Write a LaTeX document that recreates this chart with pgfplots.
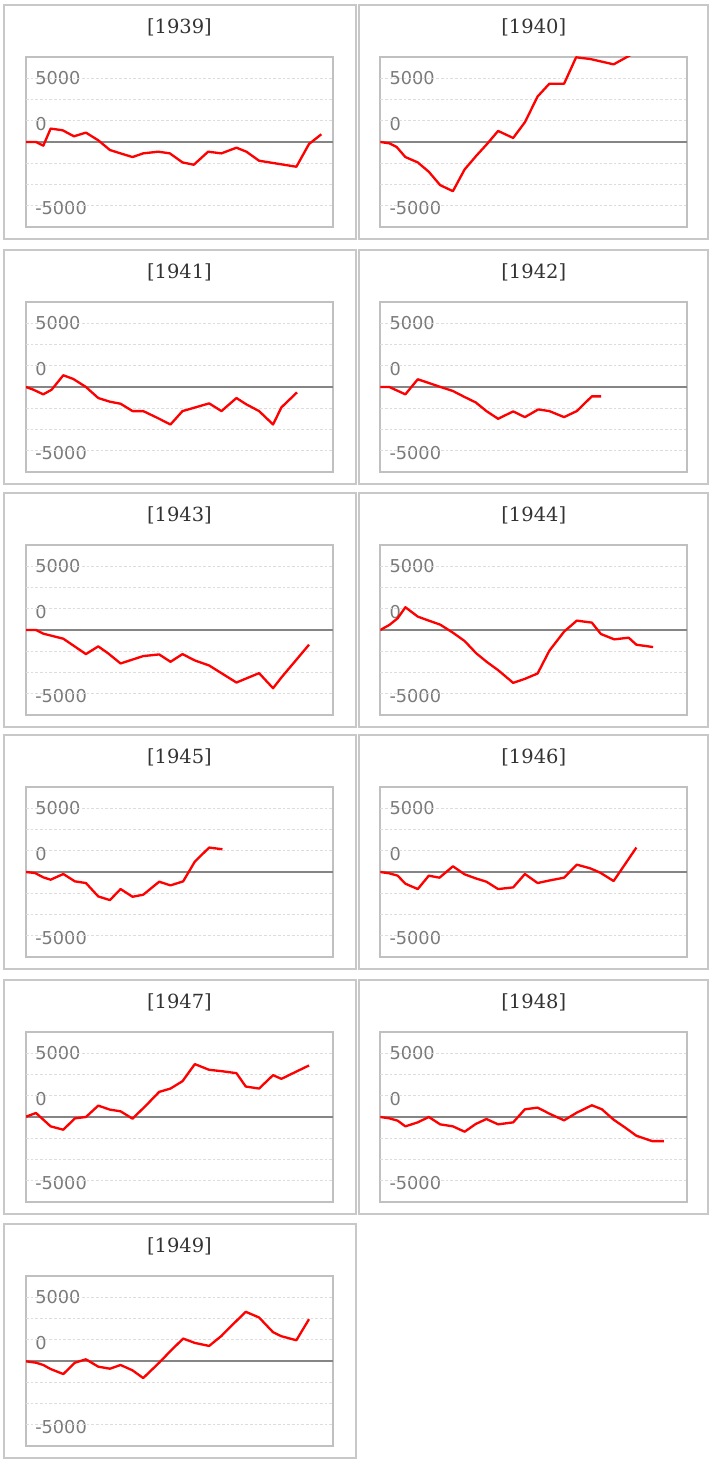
\documentclass[border=0pt]{standalone}
\usepackage{pgfplots}
\pgfplotsset{compat=1.18}
\usepackage{fontspec}
\setmainfont{DejaVu Sans}
\newfontfamily\titlefont{DejaVu Serif}
\definecolor{boxgray}{HTML}{C8C8C8}
\definecolor{axgray}{HTML}{C0C0C0}
\definecolor{gridgray}{HTML}{DDDDDD}
\definecolor{basegray}{HTML}{858585}
\definecolor{labgray}{HTML}{7A7A7A}
\definecolor{titlecol}{HTML}{333333}
\pgfplotsset{panel/.style={
  width=230.25pt, height=127.5pt, scale only axis, anchor=north west,
  xmin=0, ymin=-10000, ymax=10000,
  xtick=\empty,
  ytick={7500,2165,-7795}, yticklabels={5000,0,-5000},
  yticklabel style={anchor=west, inner sep=0pt, xshift=6.75pt, font=\fontsize{13.3}{15}\selectfont, text=labgray},
  major tick length=0pt,
  extra y ticks={-7500,-5000,-2500,2500,5000,7500},
  extra y tick labels={},
  extra y tick style={grid=major, major grid style={draw=gridgray, line width=0.6pt, dash pattern=on 2pt off 1.5pt}},
  axis line style={draw=axgray, line width=1.2pt},
  title style={at={(0.5,1)}, anchor=center, yshift=16.5pt, font=\titlefont\fontsize{14.6}{16}\selectfont, text=titlecol},
  scaled y ticks=false,
  clip=true,
}}
\pgfplotsset{redline/.style={draw=red, line width=1.75pt, line join=round, mark=none}}
\pgfplotsset{baseline/.style={draw=basegray, line width=1pt, mark=none}}
\begin{document}
\begin{tikzpicture}
\useasboundingbox (0,0) rectangle (534pt,1095.75pt);
% panel boxes
\foreach \t in {1092,908.25,726,544.5,360.75,177.75}{
  \draw[boxgray, line width=1.5pt] (3pt,\t pt) rectangle (267pt,\t pt-175.5pt);
}
\foreach \t in {1092,908.25,726,544.5,360.75}{
  \draw[boxgray, line width=1.5pt] (269.25pt,\t pt) rectangle (531pt,\t pt-175.5pt);
}
% 1939
\begin{axis}[panel, at={(19.5pt,1053pt)}, xmax=922, title={[1939]}]
\addplot[baseline] coordinates {(0,0) (922,0)};
\addplot[redline] coordinates {(0,0)(30,0)(52,-433)(74,1575)(110,1378)(144,669)(180,1102)(217,197)(252,-945)(287,-1378)(320,-1772)(352,-1339)(397,-1142)(432,-1339)(470,-2402)(504,-2677)(547,-1142)(587,-1339)(632,-669)(662,-1142)(700,-2205)(812,-2913)(850,-236)(887,905)};
\end{axis}
% 1940
\begin{axis}[panel, at={(285.2pt,1053pt)}, xmax=917, title={[1940]}]
\addplot[baseline] coordinates {(0,0) (917,0)};
\addplot[redline] coordinates {(0,0)(27,-157)(49,-591)(75,-1772)(112,-2402)(145,-3504)(179,-5079)(217,-5787)(252,-3228)(287,-1614)(319,-236)(352,1299)(397,472)(432,2323)(470,5354)(505,6850)(549,6850)(585,9961)(627,9764)(697,9134)(760,10500)};
\end{axis}
% 1941
\begin{axis}[panel, at={(19.5pt,869.25pt)}, xmax=922, title={[1941]}]
\addplot[baseline] coordinates {(0,0) (922,0)};
\addplot[redline] coordinates {(0,0)(22,-315)(52,-866)(77,-315)(112,1378)(142,945)(180,0)(217,-1299)(252,-1732)(284,-1969)(320,-2835)(352,-2835)(392,-3583)(434,-4409)(470,-2835)(512,-2362)(550,-1929)(587,-2835)(632,-1299)(662,-2047)(700,-2835)(742,-4409)(767,-2402)(814,-630)};
\end{axis}
% 1942
\begin{axis}[panel, at={(285.2pt,869.25pt)}, xmax=917, title={[1942]}]
\addplot[baseline] coordinates {(0,0) (917,0)};
\addplot[redline] coordinates {(0,0)(27,0)(75,-866)(112,906)(142,512)(177,39)(217,-472)(252,-1181)(285,-1811)(317,-2835)(352,-3740)(397,-2874)(432,-3543)(472,-2638)(505,-2835)(549,-3543)(587,-2835)(632,-1102)(660,-1102)};
\end{axis}
% 1943
\begin{axis}[panel, at={(19.5pt,687pt)}, xmax=922, title={[1943]}]
\addplot[baseline] coordinates {(0,0) (922,0)};
\addplot[redline] coordinates {(0,0)(30,0)(52,-433)(112,-1024)(180,-2835)(217,-1929)(247,-2756)(284,-3937)(352,-3071)(400,-2874)(434,-3740)(470,-2835)(507,-3583)(550,-4173)(587,-5079)(632,-6181)(700,-5079)(742,-6850)(767,-5591)(850,-1732)};
\end{axis}
% 1944
\begin{axis}[panel, at={(285.2pt,687pt)}, xmax=917, title={[1944]}]
\addplot[baseline] coordinates {(0,0) (917,0)};
\addplot[redline] coordinates {(0,0)(27,591)(52,1378)(75,2677)(112,1575)(145,1102)(179,630)(217,-315)(252,-1299)(287,-2756)(319,-3780)(352,-4724)(397,-6220)(432,-5748)(470,-5118)(505,-2441)(549,-197)(587,1102)(632,866)(659,-472)(699,-1102)(742,-906)(765,-1732)(815,-2008)};
\end{axis}
% 1945
\begin{axis}[panel, at={(19.5pt,505.5pt)}, xmax=922, title={[1945]}]
\addplot[baseline] coordinates {(0,0) (922,0)};
\addplot[redline] coordinates {(0,0)(27,-118)(52,-630)(74,-906)(112,-236)(147,-1102)(180,-1299)(217,-2874)(252,-3307)(284,-2008)(320,-2913)(352,-2677)(400,-1142)(434,-1575)(472,-1102)(507,1220)(550,2874)(590,2677)};
\end{axis}
% 1946
\begin{axis}[panel, at={(285.2pt,505.5pt)}, xmax=917, title={[1946]}]
\addplot[baseline] coordinates {(0,0) (917,0)};
\addplot[redline] coordinates {(0,0)(27,-157)(52,-433)(75,-1378)(112,-2008)(145,-433)(177,-669)(217,669)(252,-276)(285,-748)(317,-1142)(352,-2008)(397,-1811)(432,-236)(470,-1299)(507,-984)(549,-669)(587,866)(627,433)(657,-79)(697,-1063)(765,2874)};
\end{axis}
% 1947
\begin{axis}[panel, at={(19.5pt,321.75pt)}, xmax=922, title={[1947]}]
\addplot[baseline] coordinates {(0,0) (922,0)};
\addplot[redline] coordinates {(0,39)(30,472)(74,-1102)(112,-1496)(147,-157)(180,0)(217,1339)(252,866)(284,669)(320,-197)(362,1417)(400,2953)(434,3346)(470,4213)(507,6220)(550,5551)(587,5394)(632,5157)(660,3583)(700,3346)(742,4921)(767,4488)(802,5157)(850,6063)};
\end{axis}
% 1948
\begin{axis}[panel, at={(285.2pt,321.75pt)}, xmax=917, title={[1948]}]
\addplot[baseline] coordinates {(0,0) (917,0)};
\addplot[redline] coordinates {(0,0)(27,-157)(52,-433)(75,-1102)(112,-630)(145,0)(179,-866)(217,-1102)(252,-1732)(285,-827)(317,-236)(352,-866)(397,-630)(432,906)(470,1102)(507,354)(549,-394)(587,512)(632,1378)(662,906)(697,-315)(732,-1260)(765,-2205)(812,-2835)(847,-2835)};
\end{axis}
% 1949
\begin{axis}[panel, at={(19.5pt,138.75pt)}, xmax=922, title={[1949]}]
\addplot[baseline] coordinates {(0,0) (922,0)};
\addplot[redline] coordinates {(0,-39)(30,-197)(52,-472)(74,-945)(112,-1535)(147,-197)(180,197)(217,-669)(252,-906)(284,-472)(320,-1102)(352,-2008)(400,-197)(434,1181)(472,2638)(507,2126)(550,1772)(587,2953)(622,4331)(660,5787)(700,5118)(742,3386)(767,2913)(812,2441)(850,4921)};
\end{axis}
\end{tikzpicture}
\end{document}
